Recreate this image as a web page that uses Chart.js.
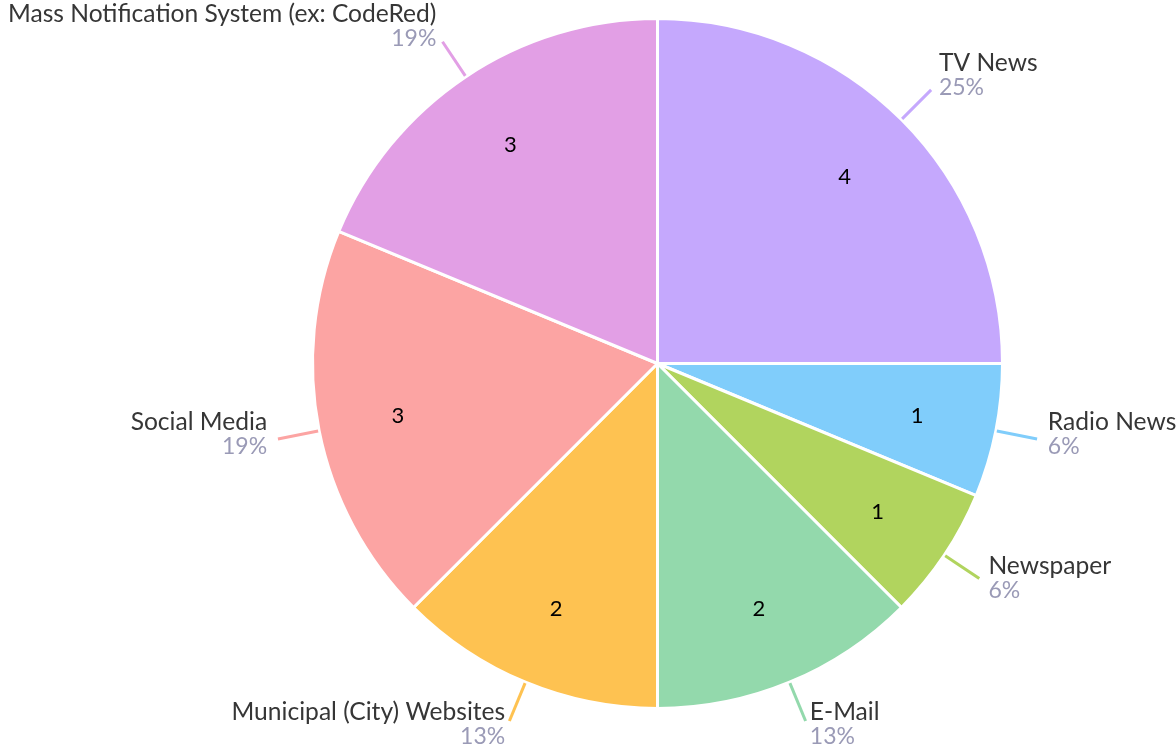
<!DOCTYPE html>
<html>
<head>
<meta charset="utf-8">
<script src="https://cdn.jsdelivr.net/npm/chart.js@4"></script>
<style>
  html, body { margin: 0; padding: 0; background: #fff; }
  #wrap { width: 1176px; height: 748px; }
</style>
</head>
<body>
<div id="wrap"><canvas id="sourcesChart" width="1176" height="748"></canvas></div>
<script>
// categories, going clockwise from 12 o'clock
const categories = [
    'TV News',
    'Radio News',
    'Newspaper',
    'E-Mail',
    'Municipal (City) Websites',
    'Social Media',
    'Mass Notification System (ex: CodeRed)'
];
const counts = [4, 1, 1, 2, 2, 3, 3];
const sliceColors = ['#c5a8fd', '#80cdfb', '#b1d45e', '#93d9ac', '#fec251', '#fca4a3', '#e29fe5'];

const total = counts.reduce((a, b) => a + b, 0);
const percents = counts.map(v => Math.round(v / total * 100) + '%');

const FONT = 'Lato, "Open Sans", sans-serif';

// draws the values inside and the name / percent labels outside with a leader line
const outsideLabels = {
    id: 'outsideLabels',
    afterDatasetsDraw(chart) {
        const ctx = chart.ctx;
        const arcs = chart.getDatasetMeta(0).data;
        ctx.save();
        arcs.forEach((arc, i) => {
            const mid = (arc.startAngle + arc.endAngle) / 2;
            const dx = Math.cos(mid), dy = Math.sin(mid);
            const r = arc.outerRadius;

            // value inside the slice
            ctx.fillStyle = '#000';
            ctx.font = '22px ' + FONT;
            ctx.textAlign = 'center';
            ctx.textBaseline = 'middle';
            ctx.fillText(String(counts[i]), arc.x + dx * r * 0.767, arc.y + dy * r * 0.767 + 1);

            // leader line
            ctx.strokeStyle = sliceColors[i];
            ctx.lineWidth = 3;
            ctx.beginPath();
            ctx.moveTo(arc.x + dx * (r + 1), arc.y + dy * (r + 1));
            ctx.lineTo(arc.x + dx * (r + 42), arc.y + dy * (r + 42));
            ctx.stroke();

            // name + percent
            const ax = arc.x + dx * (r + 53);
            const ay = arc.y + dy * (r + 53);
            ctx.textAlign = dx >= 0 ? 'left' : 'right';
            ctx.textBaseline = 'alphabetic';
            ctx.fillStyle = '#363636';
            ctx.font = '24.6px ' + FONT;
            ctx.fillText(categories[i], ax, ay - 11);
            ctx.fillStyle = '#9a9ab6';
            ctx.font = '23px ' + FONT;
            ctx.fillText(percents[i], ax, ay + 13);
        });
        ctx.restore();
    }
};

new Chart(document.getElementById('sourcesChart').getContext('2d'), {
    type: 'pie',
    data: {
        labels: categories,
        datasets: [{
            data: counts,
            backgroundColor: sliceColors,
            borderColor: '#ffffff',
            borderWidth: 3,
            hoverOffset: 0
        }]
    },
    options: {
        responsive: false,
        animation: false,
        layout: {
            padding: { top: 17, bottom: 38, left: 311, right: 172 }
        },
        plugins: {
            legend: { display: false },
            tooltip: { enabled: false }
        }
    },
    plugins: [outsideLabels]
});
</script>
</body>
</html>
